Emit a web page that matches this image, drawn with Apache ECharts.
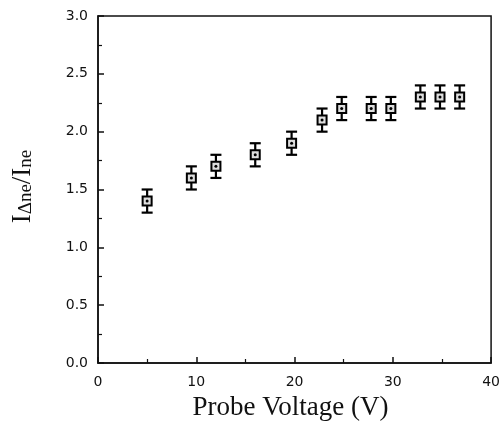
<!DOCTYPE html>
<html><head><meta charset="utf-8">
<script src="https://cdn.jsdelivr.net/npm/echarts@6/dist/echarts.min.js"></script>
<style>html,body{margin:0;padding:0;background:#fff}#c{width:503px;height:426px}</style>
</head><body><div id="c"></div>
<script>
const voltages = [5, 9.5, 12, 16, 19.7, 22.8, 24.8, 27.8, 29.8, 32.8, 34.8, 36.8];
const ratios   = [1.40, 1.60, 1.70, 1.80, 1.90, 2.10, 2.20, 2.20, 2.20, 2.30, 2.30, 2.30];
const errors   = [0.10, 0.10, 0.10, 0.10, 0.10, 0.10, 0.10, 0.10, 0.10, 0.10, 0.10, 0.10];
const xTitle = 'Probe Voltage (V)';
const yTitle = '{m|I}{s|Δne}{m|/I}{s|ne}';

const data = voltages.map((v, i) => [v, ratios[i], ratios[i] - errors[i], ratios[i] + errors[i]]);

function renderItem(params, api) {
  const c = api.coord([api.value(0), api.value(1)]);
  const lo = api.coord([api.value(0), api.value(2)]);
  const hi = api.coord([api.value(0), api.value(3)]);
  const cap = 5.5, s = 4.5;
  const st = {stroke: '#000', lineWidth: 2.2};
  return {type: 'group', children: [
    {type: 'line', shape: {x1: c[0], y1: lo[1], x2: c[0], y2: hi[1]}, style: st},
    {type: 'line', shape: {x1: c[0] - cap, y1: lo[1], x2: c[0] + cap, y2: lo[1]}, style: st},
    {type: 'line', shape: {x1: c[0] - cap, y1: hi[1], x2: c[0] + cap, y2: hi[1]}, style: st},
    {type: 'rect', shape: {x: c[0] - s, y: c[1] - s, width: 2 * s, height: 2 * s}, style: {fill: '#ddd', stroke: '#000', lineWidth: 2}},
    {type: 'circle', shape: {cx: c[0], cy: c[1], r: 1.5}, style: {fill: '#000'}}
  ]};
}

const chart = echarts.init(document.getElementById('c'), null, {renderer: 'canvas'});
chart.setOption({
  animation: false,
  backgroundColor: '#fff',
  grid: {left: 98, right: 10, top: 16, bottom: 57, show: true, borderColor: '#111', borderWidth: 1.5},
  xAxis: {
    type: 'value', min: 0, max: 40, interval: 10,
    name: xTitle, nameLocation: 'middle', nameGap: 31,
    nameTextStyle: {fontFamily: 'Liberation Serif', fontSize: 27, color: '#111', padding: [0, 8, 0, 0]},
    axisLine: {show: true, onZero: false, lineStyle: {color: '#111', width: 1.5}},
    axisTick: {show: true, inside: true, length: 6, lineStyle: {color: '#111', width: 1.5}},
    minorTick: {show: true, splitNumber: 2, length: 4, lineStyle: {color: '#111', width: 1.2}},
    splitLine: {show: false},
    axisLabel: {margin: 12, fontFamily: 'DejaVu Sans', fontSize: 14, color: '#111'}
  },
  yAxis: {
    type: 'value', min: 0, max: 3, interval: 0.5,
    name: yTitle, nameLocation: 'middle', nameGap: 62, nameRotate: 90,
    nameTextStyle: {
      color: '#111', padding: [0, 0, 0, 6],
      rich: {
        m: {fontFamily: 'Liberation Serif', fontSize: 27, color: '#111', verticalAlign: 'bottom', lineHeight: 32},
        s: {fontFamily: 'Liberation Serif', fontSize: 19, color: '#111', verticalAlign: 'bottom', lineHeight: 32}
      }
    },
    axisLine: {show: true, lineStyle: {color: '#111', width: 1.5}},
    axisTick: {show: true, inside: true, length: 6, lineStyle: {color: '#111', width: 1.5}},
    minorTick: {show: true, splitNumber: 2, length: 4, lineStyle: {color: '#111', width: 1.2}},
    splitLine: {show: false},
    axisLabel: {margin: 10, fontFamily: 'DejaVu Sans', fontSize: 14, color: '#111', formatter: v => v.toFixed(1)}
  },
  series: [{
    type: 'custom',
    renderItem: renderItem,
    data: data,
    encode: {x: 0, y: [1, 2, 3]},
    clip: false
  }]
});
</script></body></html>
